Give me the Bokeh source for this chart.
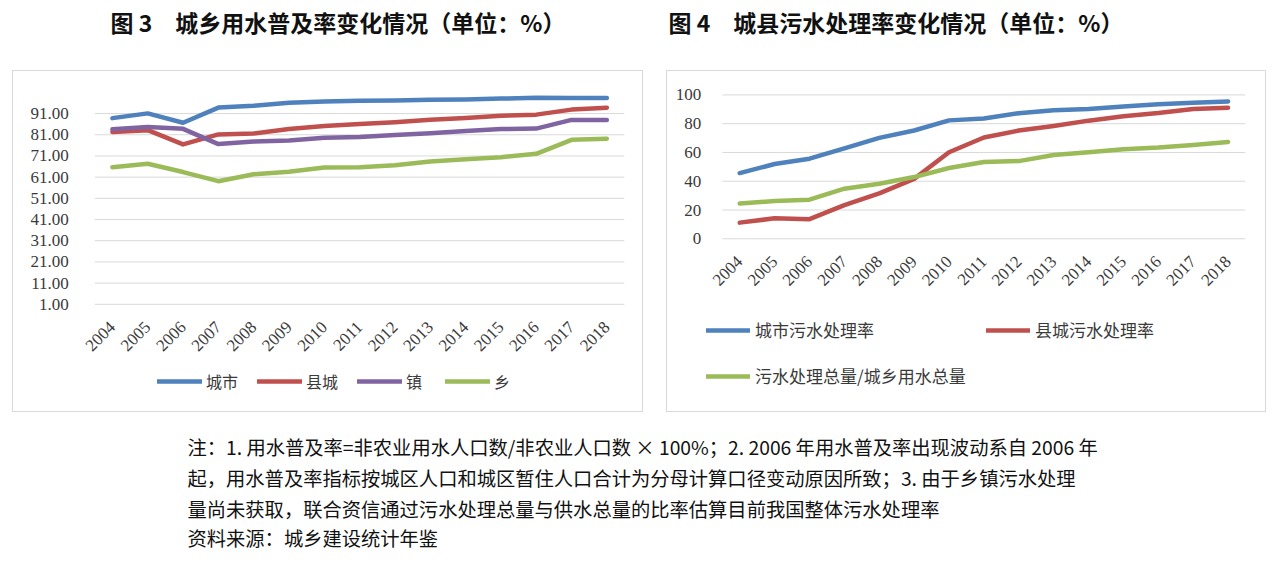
import math
from bokeh.plotting import figure
from bokeh.models import (Legend, LegendItem, Label, FixedTicker,
                          NumeralTickFormatter, Spacer)
from bokeh.layouts import row, column
from bokeh.embed import file_html
from bokeh.resources import INLINE

# ---------------- data ----------------
years = [2004, 2005, 2006, 2007, 2008, 2009, 2010, 2011, 2012, 2013,
         2014, 2015, 2016, 2017, 2018]

# Fig 3: water supply coverage (%)
city_supply = [88.85, 91.09, 86.67, 93.83, 94.73, 96.12, 96.68, 97.04,
               97.16, 97.56, 97.64, 98.07, 98.42, 98.30, 98.36]
county_supply = [82.26, 83.18, 76.43, 81.15, 81.59, 83.72, 85.14, 86.09,
                 86.94, 88.14, 88.89, 89.96, 90.50, 92.87, 93.80]
town_supply = [83.6, 84.7, 83.8, 76.6, 77.8, 78.3, 79.6, 79.9,
               80.9, 81.7, 82.8, 83.7, 83.9, 88.0, 88.0]
township_supply = [65.7, 67.3, 63.4, 59.1, 62.4, 63.5, 65.6, 65.7,
                   66.6, 68.4, 69.5, 70.4, 72.0, 78.6, 79.1]
supply_names = ["城市", "县城", "镇", "乡"]
supply_ticks = [1, 11, 21, 31, 41, 51, 61, 71, 81, 91]

# Fig 4: sewage treatment rate (%)
city_treat = [45.67, 51.95, 55.67, 62.87, 70.16, 75.25, 82.31, 83.63,
              87.30, 89.34, 90.18, 91.90, 93.44, 94.54, 95.49]
county_treat = [11.23, 14.23, 13.63, 23.38, 31.58, 41.64, 60.12, 70.41,
                75.24, 78.47, 82.12, 85.22, 87.38, 90.21, 91.16]
total_ratio = [24.5, 26.2, 27.2, 34.8, 38.2, 42.9, 49.2, 53.4,
               54.0, 58.2, 60.2, 62.2, 63.4, 65.2, 67.3]
treat_names = ["城市污水处理率", "县城污水处理率", "污水处理总量/城乡用水总量"]
treat_ticks = [0, 20, 40, 60, 80, 100]

title3 = "图 3　城乡用水普及率变化情况（单位：%）"
title4 = "图 4　城县污水处理率变化情况（单位：%）"
notes = [
    "注：1. 用水普及率=非农业用水人口数/非农业人口数 × 100%；2. 2006 年用水普及率出现波动系自 2006 年",
    "起，用水普及率指标按城区人口和城区暂住人口合计为分母计算口径变动原因所致；3. 由于乡镇污水处理",
    "量尚未获取，联合资信通过污水处理总量与供水总量的比率估算目前我国整体污水处理率",
    "资料来源：城乡建设统计年鉴",
]

# ---------------- styles ----------------
BLUE, RED, PURPLE, GREEN = "#4F81BD", "#C0504D", "#8064A2", "#9BBB59"
CJK = "Noto Sans CJK SC"
SERIF = "Liberation Serif"
TXT = "#3A3A3A"
GRID = "#D9D9D9"
LW = 4.5


def style_chart(p, yticks, fmt, ystandoff):
    for ax in (p.xaxis, p.yaxis):
        ax.axis_line_color = None
        ax.major_tick_line_color = None
        ax.minor_tick_line_color = None
        ax.major_label_text_font = SERIF
        ax.major_label_text_font_size = "17px"
        ax.major_label_text_color = TXT
    x0, x1 = years[0] - 0.5, years[-1] + 0.5
    # axes drawn at the category-area edges (frame is larger to hold labels/legend)
    p.xaxis.ticker = FixedTicker(ticks=years)
    p.xaxis.major_label_orientation = math.pi / 4
    p.xaxis.major_label_standoff = 14
    p.xaxis.fixed_location = yticks[0]
    p.yaxis.ticker = FixedTicker(ticks=yticks)
    p.yaxis.formatter = NumeralTickFormatter(format=fmt)
    p.yaxis.major_label_standoff = ystandoff
    p.yaxis.fixed_location = x0
    p.xgrid.visible = False
    p.ygrid.visible = False
    p.segment(x0=x0, x1=x1, y0=yticks, y1=yticks, line_color=GRID, line_width=1)
    p.outline_line_color = None
    p.frame_align = False
    p.styles = {"border": "1px solid #D9D9D9"}


# ---------------- Fig 3 ----------------
left = figure(width=631, height=342, x_range=(2001.68, 2018.5), y_range=(-47.7, 100),
              output_backend="svg", toolbar_location=None,
              min_border_left=17, min_border_right=20, min_border_top=23,
              min_border_bottom=6)
style_chart(left, supply_ticks, "0.00", 20)
r_supply = []
for vals, col in zip([city_supply, county_supply, town_supply, township_supply],
                     [BLUE, RED, PURPLE, GREEN]):
    r_supply.append(left.line(years, vals, line_color=col, line_width=LW,
                              line_join="round", line_cap="round"))
leg3 = Legend(items=[LegendItem(label=n, renderers=[r]) for n, r in zip(supply_names, r_supply)],
              orientation="horizontal", location=(127, 14),
              glyph_width=45, glyph_height=20, label_height=20, label_standoff=4,
              spacing=19, padding=0, margin=0, border_line_color=None,
              background_fill_alpha=0, label_text_font=CJK,
              label_text_font_size="16px", label_text_color=TXT)
left.add_layout(leg3)

# ---------------- Fig 4 ----------------
right = figure(width=600, height=342, x_range=(2002.015, 2018.5), y_range=(-117.3, 114.2),
               output_backend="svg", toolbar_location=None,
               min_border_left=3, min_border_right=22, min_border_top=3,
               min_border_bottom=6)
style_chart(right, treat_ticks, "0", 15)
r_treat = []
for vals, col in zip([city_treat, county_treat, total_ratio], [BLUE, RED, GREEN]):
    r_treat.append(right.line(years, vals, line_color=col, line_width=LW,
                              line_join="round", line_cap="round"))
leg_kw = dict(orientation="horizontal", glyph_width=44, glyph_height=20,
              label_height=20, label_standoff=5, padding=0, margin=0,
              border_line_color=None, background_fill_alpha=0,
              label_text_font=CJK, label_text_font_size="17px",
              label_text_color=TXT)
leg4a = Legend(items=[LegendItem(label=treat_names[0], renderers=[r_treat[0]]),
                      LegendItem(label=treat_names[1], renderers=[r_treat[1]])],
               location=(36, 65), spacing=112, **leg_kw)
leg4b = Legend(items=[LegendItem(label=treat_names[2], renderers=[r_treat[2]])],
               location=(36, 19), spacing=0, **leg_kw)
right.add_layout(leg4a)
right.add_layout(leg4b)


def text_fig(width, height):
    f = figure(width=width, height=height, x_range=(0, width), y_range=(0, height),
               output_backend="svg", toolbar_location=None,
               x_axis_type=None, y_axis_type=None, min_border=0)
    f.outline_line_color = None
    f.xgrid.visible = False
    f.ygrid.visible = False
    f.frame_align = False
    return f


# ---------------- header ----------------
header = text_fig(1281, 70)
for tx, t in [(110, title3), (668, title4)]:
    header.add_layout(Label(x=tx, y=49, x_units="screen", y_units="screen", text=t,
                            text_baseline="middle", text_font=CJK,
                            text_font_size="23px", text_font_style="bold",
                            text_color="#111111"))

# ---------------- notes ----------------
foot = text_fig(1281, 150)
for ty, t in zip([116, 85, 54, 25], notes):
    foot.add_layout(Label(x=187, y=ty, x_units="screen", y_units="screen", text=t,
                          text_baseline="middle", text_font=CJK,
                          text_font_size="19.3px", text_color="#111111"))

layout = column(header,
                row(Spacer(width=12, height=342), left, Spacer(width=23, height=342), right),
                foot)

open("out.html", "w").write(file_html(layout, INLINE))
